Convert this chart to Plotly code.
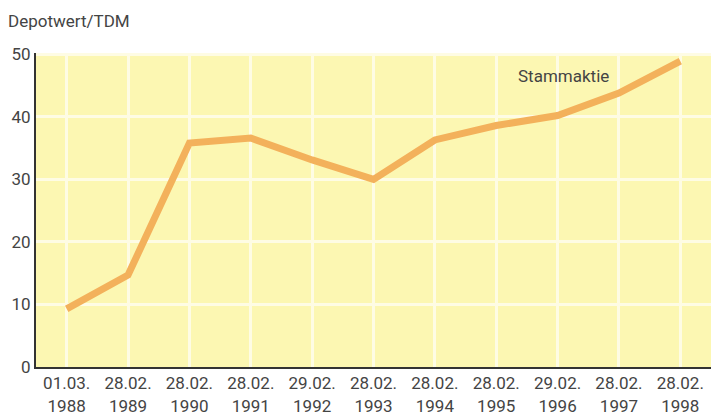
import plotly.graph_objects as go

# Stichtage (Kategorien) und Depotwert in TDM
dates = ["01.03.<br>1988", "28.02.<br>1989", "28.02.<br>1990", "28.02.<br>1991",
         "29.02.<br>1992", "28.02.<br>1993", "28.02.<br>1994", "28.02.<br>1995",
         "29.02.<br>1996", "28.02.<br>1997", "28.02.<br>1998"]
stammaktie = [9.3, 14.7, 35.8, 36.6, 33.1, 30.0, 36.3, 38.6, 40.2, 43.8, 48.9]
y_ticks = [0, 10, 20, 30, 40, 50]

fig = go.Figure()
fig.add_trace(go.Scatter(
    x=dates, y=stammaktie, mode="lines",
    line=dict(color="#F3B15B", width=7),
    name="Stammaktie", showlegend=False, hoverinfo="y",
))

fig.add_annotation(x=8.1, y=46.6, xref="x", yref="y", text="Stammaktie",
                   showarrow=False, font=dict(size=17, color="#444444"))
fig.add_annotation(x=-0.045, y=1.0, xref="paper", yref="paper", yanchor="bottom",
                   xanchor="left", yshift=20, text="Depotwert/TDM", showarrow=False,
                   font=dict(size=17, color="#444444"))

fig.update_layout(
    width=711, height=416,
    margin=dict(l=36, r=0, t=53, b=46),
    paper_bgcolor="white",
    plot_bgcolor="#FCF7B2",
    font=dict(family="Roboto, Open Sans, sans-serif", color="#444444", size=17),
    xaxis=dict(
        type="category", range=[-0.5, 10.5],
        showgrid=True, gridcolor="#FEFCE4", gridwidth=3,
        showline=True, linecolor="#333333", linewidth=2,
        ticks="", tickfont=dict(size=17, color="#444444"),
        zeroline=False,
    ),
    yaxis=dict(
        range=[0, 50.2], tickvals=y_ticks,
        showgrid=True, gridcolor="#FEFCE4", gridwidth=3,
        showline=True, linecolor="#333333", linewidth=2,
        ticks="", tickfont=dict(size=17, color="#444444"),
        zeroline=False,
    ),
)

fig.write_html("out.html", config={"displayModeBar": False},
               post_script="document.body.style.margin='0';")
